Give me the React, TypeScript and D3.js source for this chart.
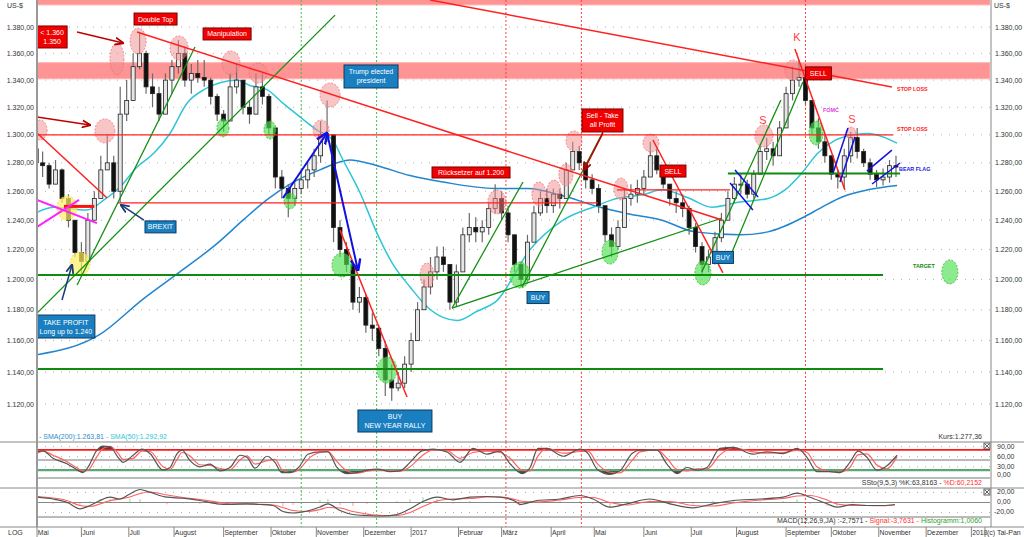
import React from "react";
import * as d3 from "d3";

// ---------------- DATA ----------------
const START_DAY = "2016-05-02";
const AXIS_END_DAY = "2018-01-01";

const monthStarts = ["2016-05-01","2016-06-01","2016-07-01","2016-08-01","2016-09-01","2016-10-01","2016-11-01","2016-12-01","2017-01-01","2017-02-01","2017-03-01","2017-04-01","2017-05-01","2017-06-01","2017-07-01","2017-08-01","2017-09-01","2017-10-01","2017-11-01","2017-12-01","2018-01-01"];
const monthLabels = ["Mai","Juni","Juli","August","September","Oktober","November","Dezember","2017","Februar","März","April","Mai","Juni","Juli","August","September","Oktober","November","Dezember","2018"];

const priceTicks = [1.12,1.14,1.16,1.18,1.2,1.22,1.24,1.26,1.28,1.3,1.32,1.34,1.36,1.38];
const stochTicks = [90,60,30,0];
const macdTicks = [20,0,-20];

// price bars, one bar per 3 trading days
const BAR_STEP = 3;
const firstOpen = 1.29;
const barHigh = [
  1.300,1.288,1.280,1.282,1.276,1.258,1.240,1.225,1.245,1.260,
  1.285,1.300,1.285,1.335,1.340,1.360,1.375,1.362,1.345,1.335,
  1.345,1.355,1.370,1.365,1.352,1.355,1.355,1.342,1.330,1.318,
  1.345,1.352,1.340,1.325,1.345,1.345,1.330,1.305,1.275,1.265,
  1.268,1.275,1.280,1.290,1.310,1.325,1.300,1.240,1.225,1.210,
  1.195,1.190,1.178,1.170,1.160,1.145,1.140,1.150,1.165,1.185,
  1.200,1.215,1.222,1.222,1.210,1.210,1.235,1.245,1.242,1.240,
  1.252,1.265,1.260,1.250,1.230,1.212,1.230,1.250,1.260,1.262,
  1.262,1.262,1.280,1.295,1.292,1.280,1.272,1.265,1.250,1.235,
  1.240,1.262,1.265,1.268,1.275,1.295,1.290,1.278,1.265,1.260,
  1.258,1.250,1.238,1.225,1.220,1.232,1.245,1.260,1.270,1.272,
  1.268,1.275,1.292,1.298,1.295,1.310,1.335,1.350,1.355,1.342,
  1.325,1.312,1.300,1.285,1.275,1.290,1.302,1.305,1.290,1.283,
  1.275,1.276,1.282,1.285];
const barLow = [
  1.275,1.270,1.262,1.265,1.252,1.235,1.215,1.203,1.210,1.240,
  1.255,1.275,1.255,1.252,1.310,1.325,1.348,1.330,1.320,1.310,
  1.318,1.330,1.345,1.335,1.330,1.338,1.335,1.322,1.310,1.302,
  1.310,1.330,1.315,1.308,1.318,1.322,1.300,1.262,1.255,1.242,
  1.250,1.258,1.262,1.270,1.280,1.295,1.225,1.215,1.205,1.180,
  1.178,1.165,1.160,1.150,1.125,1.122,1.128,1.130,1.140,1.160,
  1.180,1.190,1.200,1.205,1.180,1.182,1.205,1.225,1.225,1.225,
  1.230,1.245,1.240,1.225,1.205,1.195,1.198,1.225,1.243,1.245,
  1.245,1.248,1.255,1.278,1.275,1.262,1.258,1.245,1.225,1.215,
  1.220,1.235,1.250,1.252,1.258,1.270,1.272,1.262,1.250,1.245,
  1.242,1.230,1.218,1.203,1.205,1.210,1.225,1.240,1.252,1.258,
  1.255,1.255,1.272,1.282,1.278,1.285,1.305,1.325,1.335,1.322,
  1.300,1.290,1.280,1.268,1.262,1.262,1.280,1.283,1.277,1.268,
  1.263,1.264,1.266,1.270];
const barClose = [
  1.280,1.278,1.265,1.275,1.255,1.240,1.218,1.212,1.240,1.255,
  1.275,1.280,1.260,1.315,1.325,1.350,1.360,1.335,1.330,1.315,
  1.340,1.350,1.360,1.340,1.345,1.342,1.340,1.328,1.315,1.310,
  1.335,1.340,1.320,1.315,1.335,1.328,1.305,1.270,1.262,1.255,
  1.262,1.268,1.275,1.285,1.300,1.300,1.235,1.220,1.210,1.185,
  1.188,1.170,1.168,1.155,1.135,1.130,1.133,1.145,1.160,1.180,
  1.195,1.205,1.215,1.210,1.185,1.205,1.230,1.235,1.232,1.235,
  1.248,1.255,1.245,1.230,1.210,1.200,1.225,1.245,1.255,1.250,
  1.258,1.255,1.275,1.288,1.280,1.268,1.262,1.250,1.230,1.222,
  1.235,1.255,1.258,1.262,1.270,1.285,1.275,1.265,1.255,1.252,
  1.248,1.235,1.222,1.210,1.215,1.228,1.240,1.255,1.265,1.265,
  1.258,1.272,1.288,1.290,1.285,1.305,1.330,1.340,1.342,1.325,
  1.305,1.295,1.285,1.272,1.270,1.285,1.298,1.288,1.280,1.272,
  1.268,1.270,1.278,1.277];

// moving averages [trading-day index, price]
const sma200: [number, number][] = [
  [1.4,1.151],[30.6,1.164],[50.6,1.187],[67.7,1.205],[84.9,1.224],[97,1.240],[108,1.254],
  [120,1.266],[132.7,1.275],[146.6,1.282],[159.2,1.278],[174.5,1.271],[189.8,1.2665],
  [213.9,1.262],[229.2,1.262],[245,1.257],[260.3,1.250],[275.6,1.2445],[291.4,1.240],
  [306.7,1.232],[327.6,1.230],[340.6,1.232],[348.5,1.236],[356.4,1.2415],[365.7,1.249],
  [375,1.256],[387,1.261],[400.5,1.264]];
const sma50: [number, number][] = [
  [1.4,1.2455],[9.3,1.249],[16.7,1.248],[24.6,1.247],[32.5,1.254],[39.9,1.263],[47.8,1.277],
  [55.7,1.287],[63.1,1.301],[71,1.323],[78.9,1.333],[86.3,1.338],[94.2,1.340],[100.2,1.336],
  [108.1,1.333],[115.5,1.323],[123.4,1.313],[131.3,1.3035],[138.7,1.296],[143.4,1.282],
  [151.3,1.259],[159.2,1.231],[166.6,1.210],[174.5,1.195],[182.4,1.182],[189.8,1.175],
  [196.3,1.173],[205.6,1.179],[214.8,1.186],[230.2,1.220],[245.5,1.240],[261.3,1.250],
  [268.2,1.254],[283.5,1.258],[291.4,1.261],[303.5,1.2555],[314.6,1.249],[327.6,1.2525],
  [340.6,1.255],[348.5,1.261],[356.4,1.273],[363.8,1.287],[371.7,1.296],[379.6,1.2999],
  [387,1.301],[394.9,1.298],[400.5,1.294]];

// slow stochastic
const stochK: [number, number][] = [
  [1.4,74],[4.2,77],[8.8,55],[15.3,39],[20,21],[22.7,13],[25,28],[29.2,79],[32,91],[35.3,89],
  [39,58],[41.3,43],[46,64],[50.1,82],[53.8,69],[59.9,20],[63.1,28],[66.4,69],[68.7,79],[72.4,48],
  [77,30],[81.7,38],[86.3,18],[91,28],[95.6,64],[98.8,58],[102.6,26],[108.1,61],[111.8,43],[115,13],
  [118.8,13],[123.4,33],[127.1,67],[132.7,74],[136.4,74],[140.6,28],[145.2,10],[149.9,13],[154.5,20],
  [159.6,23],[165.2,16],[169.8,18],[174.5,43],[180,77],[185.2,82],[191.6,74],[197.7,43],[203.7,84],
  [210.2,67],[216.2,76],[220.9,39],[226.5,10],[230.2,28],[233.9,84],[238,84],[245.5,61],[253.4,82],
  [257.1,69],[261.3,23],[267.3,8],[271.9,18],[277.5,69],[281.2,79],[289.1,79],[293.7,38],[298.4,10],
  [303,28],[307.7,20],[312.3,28],[318.3,84],[324.4,87],[333.6,67],[340.1,74],[347.6,69],[354.1,84],
  [358.7,58],[363.3,16],[369.4,16],[374,13],[378.6,43],[382.4,76],[386.5,58],[391.2,20],[395.8,33],[400.5,64]];
const stochD: [number, number][] = [
  [1.4,70],[4.2,76],[8.8,64],[15.3,45],[20,27],[22.7,17],[25,20],[29.2,60],[32,84],[35.3,90],
  [39,70],[41.3,52],[46,55],[50.1,76],[53.8,75],[59.9,30],[63.1,22],[66.4,52],[68.7,72],[72.4,62],
  [77,36],[81.7,34],[86.3,25],[91,22],[95.6,50],[98.8,62],[102.6,38],[108.1,48],[111.8,52],[115,22],
  [118.8,13],[123.4,24],[127.1,52],[132.7,72],[136.4,75],[140.6,45],[145.2,18],[149.9,11],[154.5,17],
  [159.6,21],[165.2,19],[169.8,17],[174.5,30],[180,62],[185.2,80],[191.6,78],[197.7,55],[203.7,72],
  [210.2,76],[216.2,72],[220.9,55],[226.5,20],[230.2,18],[233.9,62],[238,84],[245.5,70],[253.4,75],
  [257.1,76],[261.3,40],[267.3,14],[271.9,12],[277.5,48],[281.2,74],[289.1,80],[293.7,55],[298.4,22],
  [303,18],[307.7,24],[312.3,24],[318.3,65],[324.4,86],[333.6,74],[340.1,70],[347.6,72],[354.1,78],
  [358.7,72],[363.3,30],[369.4,16],[374,15],[378.6,28],[382.4,65],[386.5,68],[391.2,35],[395.8,24],[400.5,60]];

// MACD
const macdLine: [number, number][] = [
  [1.4,10.6],[8.8,7],[15.3,0.6],[21.3,-12.6],[26,-6],[30.6,4],[35.3,10.6],[39.9,7],[44.5,17],[49.2,26],
  [53.8,20.6],[61.7,10.6],[69.1,8.6],[77,4],[84.9,-2.6],[91,-4],[98.8,-2.6],[104.9,-4],[110.9,-6],
  [115.5,-18],[120.2,-21],[126.7,-17],[132.7,-9],[136.4,-2.6],[142,-16],[148,-24],[154.5,-26],
  [161.9,-27],[168.4,-24],[174.5,-12.6],[180.5,2],[187,10.6],[194.4,5.4],[202.3,10.6],[210.2,12],
  [216.2,10.6],[224.1,0.6],[225.5,-4],[233.4,4],[244.1,7],[253.4,14],[259.4,7],[267.3,-9.4],
  [275.2,-2.6],[285.8,7],[295.1,-2.6],[305.8,-10.6],[315.1,-2.6],[324.4,4],[336.9,7],[347.6,10.6],
  [354.1,18.6],[360.1,10.6],[368,-2.6],[372.6,-9.4],[380,-4],[386.5,-6],[394,-6],[399.5,-4]];
const macdSignal: [number, number][] = [
  [1.4,12],[8.8,9],[15.3,4],[21.3,-6],[26,-8],[30.6,-3],[35.3,4],[39.9,7],[44.5,11],[49.2,18],
  [53.8,21],[61.7,15],[69.1,10],[77,6],[84.9,1],[91,-2.5],[98.8,-3],[104.9,-3.5],[110.9,-5],
  [115.5,-10],[120.2,-16],[126.7,-18],[132.7,-14],[136.4,-10],[142,-11],[148,-18],[154.5,-23],
  [161.9,-26],[168.4,-26],[174.5,-20],[180.5,-8],[187,3],[194.4,7],[202.3,8],[210.2,11],
  [216.2,11],[224.1,5],[225.5,3],[233.4,1],[244.1,5],[253.4,10],[259.4,10],[267.3,0],
  [275.2,-5],[285.8,2],[295.1,2],[305.8,-6],[315.1,-7],[324.4,-1],[336.9,5],[347.6,8],
  [354.1,13],[360.1,14],[368,5],[372.6,-3],[380,-6],[386.5,-6],[394,-6.5],[399.5,-5]];

// event markers
const greenMarkerDays = ["2016-10-21","2016-12-09"];
const redMarkerDays = ["2017-03-03","2017-04-21","2017-09-14"];

// annotations (trading-day index, price)
const resistanceBands: [number, number][] = [[1.341,1.353],[1.397,1.43]];
const redLevels: [number, number, number][] = [[1.300,0,398.6],[1.252,39,261.7],[1.261,270.5,323]];
const thickRedLevels: [number, number, number][] = [[1.2495,13.9,28]];
const greenLevels: [number, number, number][] = [[1.2029,0,394],[1.1419,0,394],[1.2725,322,401.9]];
const redTrends: [number, number, number, number][] = [
  [47.8,1.3762,319.3,1.2401],[183.8,1.4008,398.1,1.3349],[1.4,1.3013,33.9,1.2553],
  [142,1.2332,173.1,1.1243],[287.2,1.2963,319.7,1.2043],[353.1,1.3633,376.3,1.2609]];
const darkRedArrows: [number, number, number, number][] = [
  [20,1.3762,41.3,1.3678],[1.4,1.3129,26,1.3071],[264,1.3013,255.2,1.2749]];
const greenTrends: [number, number, number, number][] = [
  [1.4,1.1778,139.7,1.3891],[20,1.1963,74.7,1.3648],[194,1.1811,226.9,1.2665],
  [194,1.1811,319.3,1.2415],[226.5,1.195,264,1.302],[309.9,1.205,346.6,1.3253],[322,1.2116,356.8,1.3386]];
const blueArrows: [number, number, number, number][] = [[115.5,1.2553,136,1.3013],[136,1.3013,150.3,1.2063]];
const navyArrows: [number, number, number, number][] = [[51,1.2401,40.4,1.2505],[13,1.1864,17.6,1.2096]];
const blueChannels: [number, number, number, number][] = [
  [325.3,1.2749,336,1.256],[323,1.2658,333.6,1.247],[370.8,1.2728,377.7,1.305],
  [374,1.2665,381,1.2984],[386.5,1.2742,398.1,1.2891],[388.9,1.2651,401.9,1.2799]];
const magentaCross: [number, number, number, number][] = [[1.4,1.254,29.2,1.238],[1.4,1.2354,20.9,1.254]];

const pinkSpots: [number, number, number, number][] = [
  [2.8,1.3035,7,10],[32.9,1.3028,10,12],[38.5,1.3557,7,16],[48.3,1.3693,8,13],[67.3,1.3641,9,12],
  [91.4,1.3528,9,12],[104,1.3453,9,10],[137.4,1.329,10,12],[133.2,1.3035,8,10],[182.4,1.2029,7,12],
  [214.8,1.2526,9,12],[234.3,1.2581,7,12],[241.3,1.2595,7,12],[246.8,1.2714,7,11],[250.6,1.2956,8,10],
  [272.4,1.2616,7,11],[286.3,1.2941,8,9],[338.7,1.2992,9,11],[352.2,1.3475,8,10],[379.1,1.3013,5,6]];
const greenSpots: [number, number, number, number][] = [
  [87.7,1.305,6,9],[109.5,1.3035,6,9],[118.8,1.2533,6,8],[142.9,1.2096,10,12],[163.8,1.1413,10,13],
  [225.5,1.2029,10,13],[267.3,1.2183,8,12],[310.4,1.2043,8,12],[362.9,1.3013,7,12],[425,1.205,8,12]];
const yellowSpots: [number, number, number, number][] = [[15.3,1.2484,10,12],[21.3,1.2103,10,12]];

type Box = { lines: string[]; i: number; p: number; w: number; h: number };
const redBoxes: Box[] = [
  { lines: ["< 1.360", "1.350"], i: 8.4, p: 1.3724, w: 30, h: 22 },
  { lines: ["Double Top"], i: 56.4, p: 1.3861, w: 43, h: 12 },
  { lines: ["Manipulation"], i: 89.6, p: 1.3747, w: 48, h: 12 },
  { lines: ["Rücksetzer auf 1.200"], i: 202.8, p: 1.2732, w: 78, h: 11 },
  { lines: ["Sell - Take", "all Profit"], i: 263.8, p: 1.3104, w: 41, h: 23 },
  { lines: ["SELL"], i: 296.5, p: 1.2742, w: 26, h: 12 },
  { lines: ["SELL"], i: 364, p: 1.345, w: 26, h: 13 },
];
const blueBoxes: Box[] = [
  { lines: ["Trump elected", "president"], i: 156.4, p: 1.3427, w: 54, h: 23 },
  { lines: ["BREXIT"], i: 58.7, p: 1.2354, w: 31, h: 12 },
  { lines: ["TAKE PROFIT", "Long up to 1.240"], i: 14.8, p: 1.1691, w: 58, h: 23 },
  { lines: ["BUY", "NEW YEAR RALLY"], i: 167.5, p: 1.1095, w: 74, h: 22 },
  { lines: ["BUY"], i: 233.9, p: 1.188, w: 22, h: 12 },
  { lines: ["BUY"], i: 319.7, p: 1.2147, w: 21, h: 12 },
];
const bigLetters: [string, number, number][] = [["K",354,1.3724],["S",338.3,1.3107],["S",379.6,1.3114]];
type Tag = { t: string; i: number; p: number; c: string };
const smallTags: Tag[] = [
  { t: "FOMC", i: 366.1, p: 1.318, c: "#e040e0" },
  { t: "STOP LOSS", i: 400.5, p: 1.3335, c: "#ff2020" },
  { t: "STOP LOSS", i: 400.5, p: 1.3042, c: "#ff2020" },
  { t: "BEAR FLAG", i: 401.4, p: 1.2757, c: "#2020e0" },
  { t: "TARGET", i: 407.9, p: 1.2089, c: "#108a10" },
];

// ---------------- HELPERS ----------------
function parseDay(iso: string): Date {
  const [y, m, d] = iso.split("-").map(Number);
  return new Date(y, m - 1, d);
}
function tradeIndex(iso: string): number {
  const target = parseDay(iso);
  const cur = parseDay(START_DAY);
  let n = 0;
  while (cur < target) {
    const wd = cur.getDay();
    if (wd !== 0 && wd !== 6) n++;
    cur.setDate(cur.getDate() + 1);
  }
  return n;
}

const FONT = '"Liberation Sans", Arial, Helvetica, sans-serif';
const W = 1024, H = 537;
const PL = 37, PR = 990;
const MAIN_BOTTOM = 442, STOCH_TOP = 442, STOCH_BOTTOM = 478, MACD_TOP = 488, MACD_BOTTOM = 517, AXIS_TOP = 527;

export default function App() {
  const xS = d3.scaleLinear().domain([0, tradeIndex(AXIS_END_DAY)]).range([34, 971.4]);
  const yS = d3.scaleLog().domain([1.12, 1.38]).range([404, 27]);
  const yK = d3.scaleLinear().domain([0, 100]).range([477, 443]);
  const yM = d3.scaleLinear().domain([-20, 20]).range([512.5, 492.5]);

  const fmtPrice = (v: number) => v.toFixed(3) + ",00";
  const fmtOsc = (v: number) => v.toFixed(2).replace(".", ",");

  const priceLine = d3.line<[number, number]>().x(d => xS(d[0])).y(d => yS(d[1])).curve(d3.curveMonotoneX);
  const kLine = d3.line<[number, number]>().x(d => xS(d[0])).y(d => yK(d[1])).curve(d3.curveMonotoneX);
  const mLine = d3.line<[number, number]>().x(d => xS(d[0])).y(d => yM(d[1])).curve(d3.curveMonotoneX);
  const kAreaTop = d3.area<[number, number]>().x(d => xS(d[0])).y0(yK(80)).y1(d => yK(d[1])).curve(d3.curveMonotoneX);
  const kAreaBot = d3.area<[number, number]>().x(d => xS(d[0])).y0(yK(20)).y1(d => yK(d[1])).curve(d3.curveMonotoneX);

  const bars = barClose.map((c, k) => {
    const o = k === 0 ? firstOpen : barClose[k - 1];
    const hi = Math.max(barHigh[k], o, c);
    const lo = Math.min(barLow[k], o, c);
    return { x: xS(k * BAR_STEP + 1), o, c, hi, lo };
  });

  const months = monthStarts.map((m, j) => ({ x: Math.max(xS(tradeIndex(m)), PL), label: monthLabels[j] }));

  const seg = (s: [number, number, number, number]) => ({ x1: xS(s[0]), y1: yS(s[1]), x2: xS(s[2]), y2: yS(s[3]) });

  const boxEl = (b: Box, fill: string, stroke: string, key: string) => {
    const cx = xS(b.i), cy = yS(b.p);
    return (
      <g key={key}>
        <rect x={cx - b.w / 2} y={cy - b.h / 2} width={b.w} height={b.h} fill={fill} stroke={stroke} strokeWidth={1} />
        {b.lines.map((t, j) => (
          <text key={j} x={cx} y={cy + 2.5 + (j - (b.lines.length - 1) / 2) * 9} textAnchor="middle" fontSize={7} fill="#fff" fontFamily={FONT}>{t}</text>
        ))}
      </g>
    );
  };

  return (
    <svg width={W} height={H} style={{ position: "absolute", left: 0, top: 0, background: "#fff" }} fontFamily={FONT}>
      <defs>
        <clipPath id="mainClip"><rect x={PL} y={0} width={PR - PL} height={MAIN_BOTTOM} /></clipPath>
        <clipPath id="lowClip"><rect x={PL} y={STOCH_TOP} width={PR - PL} height={AXIS_TOP - STOCH_TOP} /></clipPath>
        <clipPath id="aboveK"><rect x={PL} y={STOCH_TOP} width={PR - PL} height={yK(80) - STOCH_TOP} /></clipPath>
        <clipPath id="belowK"><rect x={PL} y={yK(20)} width={PR - PL} height={STOCH_BOTTOM - yK(20)} /></clipPath>
        {[["arDR", "#b00000"], ["arB", "#1010e0"], ["arN", "#1a3a7a"]].map(([id, c]) => (
          <marker key={id} id={id} viewBox="0 0 10 10" refX={9} refY={5} markerWidth={6} markerHeight={6} orient="auto">
            <path d="M0,1 L10,5 L0,9" fill="none" stroke={c} strokeWidth={2} />
          </marker>
        ))}
      </defs>

      {/* ---------- MAIN PANEL ---------- */}
      <g clipPath="url(#mainClip)">
        {priceTicks.map(v => (
          <line key={v} x1={PL} x2={PR} y1={yS(v)} y2={yS(v)} stroke="#b0b0b0" strokeDasharray="1,7" />
        ))}
        {resistanceBands.map((b, j) => (
          <rect key={j} x={PL} width={PR - PL} y={yS(b[1])} height={yS(b[0]) - yS(b[1])} fill="#ff7070" fillOpacity={0.75} stroke="#ffb0b0" strokeWidth={1} />
        ))}
        {greenMarkerDays.map(d => (
          <line key={d} x1={xS(tradeIndex(d))} x2={xS(tradeIndex(d))} y1={0} y2={MAIN_BOTTOM} stroke="#40c040" strokeDasharray="2,2" />
        ))}
        {redMarkerDays.map(d => (
          <line key={d} x1={xS(tradeIndex(d))} x2={xS(tradeIndex(d))} y1={0} y2={MAIN_BOTTOM} stroke="#ff4040" strokeDasharray="2,2" />
        ))}

        <path d={priceLine(sma200) || ""} fill="none" stroke="#2185d0" strokeWidth={1.5} />
        <path d={priceLine(sma50) || ""} fill="none" stroke="#2ec6d6" strokeWidth={1.5} />

        {bars.map((b, k) => {
          const up = b.c >= b.o;
          const top = yS(Math.max(b.o, b.c));
          const bot = yS(Math.min(b.o, b.c));
          return (
            <g key={k}>
              <line x1={b.x} x2={b.x} y1={yS(b.hi)} y2={yS(b.lo)} stroke="#6a6a6a" strokeWidth={1.2} />
              <rect x={b.x - 2} width={4} y={top} height={Math.max(1, bot - top)} fill={up ? "#e6e6e6" : "#111"} stroke="#222" strokeWidth={0.8} />
            </g>
          );
        })}

        {pinkSpots.map((s, j) => (
          <ellipse key={"p" + j} cx={xS(s[0])} cy={yS(s[1])} rx={s[2]} ry={s[3]} fill="#f08c8c" fillOpacity={0.5} stroke="#f07070" strokeDasharray="2,1.5" strokeWidth={0.8} />
        ))}
        {greenSpots.map((s, j) => (
          <ellipse key={"g" + j} cx={xS(s[0])} cy={yS(s[1])} rx={s[2]} ry={s[3]} fill="#4ee04e" fillOpacity={0.65} stroke="#30b030" strokeDasharray="2,1.5" strokeWidth={0.8} />
        ))}
        {yellowSpots.map((s, j) => (
          <ellipse key={"y" + j} cx={xS(s[0])} cy={yS(s[1])} rx={s[2]} ry={s[3]} fill="#fff060" fillOpacity={0.7} stroke="#e8d840" strokeDasharray="2,1.5" strokeWidth={0.8} />
        ))}

        {redLevels.map((l, j) => (
          <line key={"rl" + j} x1={xS(l[1])} x2={xS(l[2])} y1={yS(l[0])} y2={yS(l[0])} stroke="#ff2020" strokeWidth={1.3} />
        ))}
        {thickRedLevels.map((l, j) => (
          <line key={"trl" + j} x1={xS(l[1])} x2={xS(l[2])} y1={yS(l[0])} y2={yS(l[0])} stroke="#ff1010" strokeWidth={3} />
        ))}
        {greenLevels.map((l, j) => (
          <line key={"gl" + j} x1={xS(l[1])} x2={xS(l[2])} y1={yS(l[0])} y2={yS(l[0])} stroke="#108a10" strokeWidth={2} />
        ))}
        {greenTrends.map((s, j) => <line key={"gt" + j} {...seg(s)} stroke="#129012" strokeWidth={1.3} />)}
        {redTrends.map((s, j) => <line key={"rt" + j} {...seg(s)} stroke="#ff2020" strokeWidth={1.5} />)}
        {darkRedArrows.map((s, j) => <line key={"dr" + j} {...seg(s)} stroke="#c00000" strokeWidth={1.5} markerEnd="url(#arDR)" />)}
        {magentaCross.map((s, j) => <line key={"mc" + j} {...seg(s)} stroke="#ff20ff" strokeWidth={2} />)}
        {blueArrows.map((s, j) => <line key={"ba" + j} {...seg(s)} stroke="#1010e0" strokeWidth={2} markerEnd="url(#arB)" />)}
        {navyArrows.map((s, j) => <line key={"na" + j} {...seg(s)} stroke="#1a3a7a" strokeWidth={1.5} markerEnd="url(#arN)" />)}
        {blueChannels.map((s, j) => <line key={"bc" + j} {...seg(s)} stroke="#1010e0" strokeWidth={1.5} />)}

        {redBoxes.map((b, j) => boxEl(b, "#f00000", "#7a0000", "rb" + j))}
        {blueBoxes.map((b, j) => boxEl(b, "#1a7fc1", "#0b3a5e", "bb" + j))}

        {bigLetters.map(([t, i, p], j) => (
          <text key={"bl" + j} x={xS(i)} y={yS(p) + 4} textAnchor="middle" fontSize={11} fill="#ff4040">{t}</text>
        ))}
        {smallTags.map((t, j) => (
          <text key={"st" + j} x={xS(t.i)} y={yS(t.p) + 2} fontSize={5.4} fontWeight="bold" fill={t.c}>{t.t}</text>
        ))}

        <text x={39} y={439} fontSize={7}>
          <tspan fill="#2b8bd0">- SMA(200):1.263,81</tspan>
          <tspan fill="#2ec6d6"> - SMA(50):1.292,92</tspan>
        </text>
        <text x={982} y={439} fontSize={7} fill="#333" textAnchor="end">Kurs:1.277,36</text>
      </g>

      {/* price axes */}
      <text x={7} y={8} fontSize={7} fill="#333">US-$</text>
      <text x={994} y={8} fontSize={7} fill="#333">US-$</text>
      {priceTicks.map(v => (
        <g key={"pt" + v}>
          <text x={34} y={yS(v) + 2.5} fontSize={7} fill="#333" textAnchor="end">{fmtPrice(v)}</text>
          <text x={995} y={yS(v) + 2.5} fontSize={7} fill="#333">{fmtPrice(v)}</text>
        </g>
      ))}

      {/* ---------- LOWER PANELS ---------- */}
      <g clipPath="url(#lowClip)">
        {[90, 60, 30].map(v => (
          <line key={"sg" + v} x1={PL} x2={PR} y1={yK(v)} y2={yK(v)} stroke="#b0b0b0" strokeDasharray="1,7" />
        ))}
        <line x1={PL} x2={PR} y1={yK(50)} y2={yK(50)} stroke="#777" strokeWidth={1} />
        <line x1={PL} x2={PR} y1={STOCH_BOTTOM} y2={STOCH_BOTTOM} stroke="#777" strokeWidth={1} />
        <path d={kAreaTop(stochK) || ""} fill="#444" clipPath="url(#aboveK)" />
        <path d={kAreaBot(stochK) || ""} fill="#444" clipPath="url(#belowK)" />
        <line x1={PL} x2={PR} y1={yK(80)} y2={yK(80)} stroke="#ff1a1a" strokeWidth={1.8} />
        <line x1={PL} x2={PR} y1={yK(20)} y2={yK(20)} stroke="#5aa878" strokeWidth={2.2} />
        <path d={kLine(stochD) || ""} fill="none" stroke="#ff6060" strokeWidth={1.2} />
        <path d={kLine(stochK) || ""} fill="none" stroke="#555" strokeWidth={1.2} />

        {[20, -20].map(v => (
          <line key={"mg" + v} x1={PL} x2={PR} y1={yM(v)} y2={yM(v)} stroke="#b0b0b0" strokeDasharray="1,7" />
        ))}
        <line x1={PL} x2={PR} y1={yM(0)} y2={yM(0)} stroke="#888" strokeWidth={1} />
        <line x1={PL} x2={PR} y1={MACD_BOTTOM} y2={MACD_BOTTOM} stroke="#777" strokeWidth={1} />
        {macdLine.map((d, j) => {
          const diff = d[1] - macdSignal[j][1];
          return (
            <line key={"h" + j} x1={xS(d[0])} x2={xS(d[0])} y1={yM(0)} y2={yM(diff)} stroke={diff >= 0 ? "#30b030" : "#ff4040"} strokeWidth={1} strokeDasharray="1,1" />
          );
        })}
        <path d={mLine(macdSignal) || ""} fill="none" stroke="#ff6060" strokeWidth={1.2} />
        <path d={mLine(macdLine) || ""} fill="none" stroke="#555" strokeWidth={1.2} />

        {greenMarkerDays.map(d => (
          <line key={"lg" + d} x1={xS(tradeIndex(d))} x2={xS(tradeIndex(d))} y1={STOCH_TOP} y2={AXIS_TOP} stroke="#40c040" strokeDasharray="2,2" />
        ))}
        {redMarkerDays.map(d => (
          <line key={"lr" + d} x1={xS(tradeIndex(d))} x2={xS(tradeIndex(d))} y1={STOCH_TOP} y2={AXIS_TOP} stroke="#ff4040" strokeDasharray="2,2" />
        ))}
      </g>

      <text x={982} y={485} fontSize={7} textAnchor="end">
        <tspan fill="#333">SSto(9,5,3) %K:63,8163 - </tspan>
        <tspan fill="#ff3030">%D:60,2152</tspan>
      </text>
      <text x={982} y={523} fontSize={7} textAnchor="end">
        <tspan fill="#333">MACD(12,26,9,JA) :-2,7571 - </tspan>
        <tspan fill="#ff3030">Signal:-3,7631 - </tspan>
        <tspan fill="#30a030">Histogramm:1,0060</tspan>
      </text>

      {stochTicks.map(v => (
        <text key={"sk" + v} x={997} y={Math.min(yK(v), 474) + 2.5} fontSize={7} fill="#333">{fmtOsc(v)}</text>
      ))}
      {macdTicks.map(v => (
        <text key={"mk" + v} x={v < 0 ? 994 : 997} y={yM(v) - 1.2 + 2.5} fontSize={7} fill="#333">{fmtOsc(v)}</text>
      ))}
      {[STOCH_TOP + 1, MACD_TOP + 1].map(y => (
        <g key={"cb" + y}>
          <rect x={984} y={y} width={6} height={6} fill="#fff" stroke="#333" strokeWidth={0.8} />
          <path d={`M${985},${y + 1} L${989},${y + 5} M${989},${y + 1} L${985},${y + 5}`} stroke="#333" strokeWidth={0.8} />
        </g>
      ))}

      {/* frame */}
      <line x1={0} x2={W} y1={MAIN_BOTTOM} y2={MAIN_BOTTOM} stroke="#888" />
      <line x1={0} x2={W} y1={MACD_TOP} y2={MACD_TOP} stroke="#888" />
      <line x1={0} x2={W} y1={AXIS_TOP} y2={AXIS_TOP} stroke="#888" />
      <line x1={PL} x2={PL} y1={0} y2={AXIS_TOP} stroke="#999" strokeWidth={2} />
      <line x1={991} x2={991} y1={0} y2={AXIS_TOP} stroke="#888" strokeWidth={1} />

      {/* time axis */}
      <text x={8} y={535} fontSize={7} fill="#333">LOG</text>
      {months.map((m, j) => (
        <g key={"m" + j}>
          <line x1={m.x} x2={m.x} y1={AXIS_TOP} y2={H} stroke="#888" />
          <text x={m.x + 0.8} y={535} fontSize={6.8} fill="#333">{m.label}</text>
        </g>
      ))}
      <line x1={985} x2={985} y1={AXIS_TOP} y2={H} stroke="#888" />
      <text x={987} y={535} fontSize={7} fill="#333">(c) Tai-Pan</text>
    </svg>
  );
}
